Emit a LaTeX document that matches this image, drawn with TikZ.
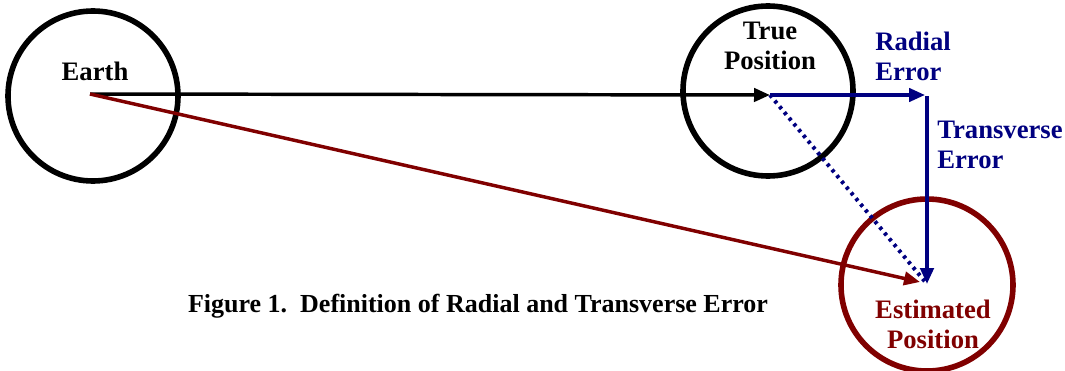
\documentclass[tikz,border=0pt]{standalone}
\usepackage{fontspec}
\setmainfont{Liberation Serif}
\usepackage{xcolor}
\usepackage{tikz}
\usetikzlibrary{arrows.meta}

\definecolor{errblue}{RGB}{0,0,128}
\definecolor{estred}{RGB}{128,0,0}

\begin{document}
\begin{tikzpicture}[
    x=0.75pt, y=-0.75pt,
    body/.style={draw, circle, line width=4.2pt, inner sep=0pt, minimum size=127.5pt},
    lbl/.style={font=\fontsize{20}{22.5}\selectfont\bfseries, inner sep=0pt, align=center},
    arrow/.style={-{Triangle[length=12pt, width=10pt]}, line width=2.6pt}
]
    \useasboundingbox (0,0) rectangle (1065,371);

    % circles
    \node[body] (earth) at (93,96) {};
    \node[body] (truepos) at (768,91) {};
    \node[body, draw=estred, minimum size=129pt] (estpos) at (927,285) {};

    % points
    \coordinate (e0) at (90,94);
    \coordinate (t0) at (770,95);
    \coordinate (corner) at (927,95);
    \coordinate (e1) at (927,284);
    \coordinate (e2) at (920,282);

    % texts
    \node[lbl, anchor=base] (earthtxt) at (95,80) {Earth};
    \node[lbl, anchor=base] (truetxt) at (770,69) {True\\Position};
    \node[lbl, anchor=base, text=estred] (esttxt) at (933,348) {Estimated\\Position};
    \node[lbl, anchor=base west, align=left, text=errblue] (radtxt) at (875,80) {Radial\\Error};
    \node[lbl, anchor=base west, align=left, text=errblue] (trtxt) at (937,168) {Transverse\\Error};
    \node[lbl, font=\fontsize{19.5}{22}\selectfont\bfseries, anchor=base] (caption) at (478,312)
        {Figure 1.\ \ Definition of Radial and Transverse Error};

    % arrows
    \draw[arrow] (e0) -- (t0);
    \draw[arrow, estred] (e0) -- (e2);
    \draw[errblue, line width=3pt, dash pattern=on 2.4pt off 3.2pt] (t0) -- (e1);
    \draw[arrow, errblue] (t0) -- ([xshift=-1.5pt]corner);
    \draw[arrow, errblue, line width=2.8pt] ([yshift=-1pt]corner) -- (e1);
\end{tikzpicture}
\end{document}
